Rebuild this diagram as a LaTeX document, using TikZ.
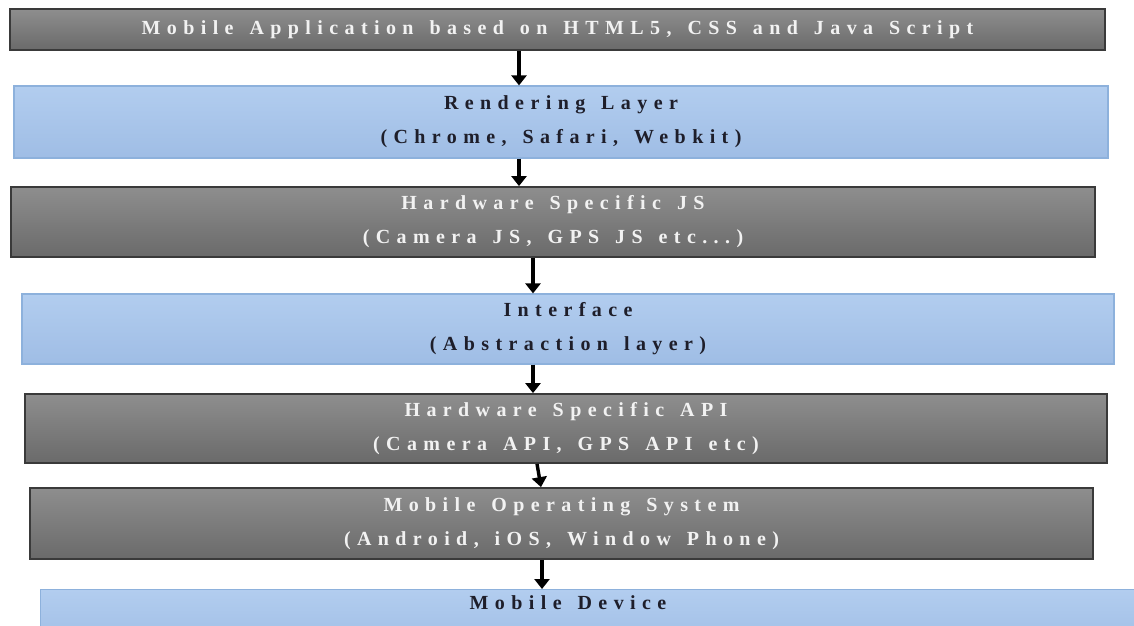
\documentclass[tikz,border=0pt]{standalone}
\usepackage{fontspec}
\setmainfont{Liberation Serif}
\newfontfamily\layerfont{Liberation Serif}[LetterSpace=32,WordSpace=1.4]
\usetikzlibrary{arrows.meta}
\definecolor{darktop}{HTML}{8E8E8E}
\definecolor{darkbot}{HTML}{6A6A6A}
\definecolor{darkline}{HTML}{3A3A3A}
\definecolor{bluetop}{HTML}{B2CDEF}
\definecolor{bluebot}{HTML}{9FBDE5}
\definecolor{blueline}{HTML}{8DB1DC}
\definecolor{inktext}{HTML}{1E1E2A}
\tikzset{
  layer/.style={rectangle, inner sep=0pt, align=center,
    font=\layerfont\bfseries\fontsize{20pt}{34pt}\selectfont},
  darklayer/.style={layer, draw=darkline, line width=1.8pt,
    top color=darktop, bottom color=darkbot, text=white!95!black},
  bluelayer/.style={layer, draw=blueline, line width=1.2pt,
    top color=bluetop, bottom color=bluebot, text=inktext},
  flow/.style={line width=3.4pt, -{Triangle[width=15pt,length=10pt]}}
}
\begin{document}
\begin{tikzpicture}[x=1pt,y=-1pt]
\useasboundingbox (0,0) rectangle (1134,625);
\clip (0,0) rectangle (1134,625);

\node[darklayer, minimum width=1095pt, minimum height=41pt] (app) at (557.5,29.5)
  {Mobile Application based on HTML5, CSS and Java Script};
\node[bluelayer, minimum width=1094pt, minimum height=72pt] (render) at (561,122)
  {Rendering Layer\\(Chrome, Safari, Webkit)};
\node[darklayer, minimum width=1084pt, minimum height=70pt] (hwjs) at (553,222)
  {Hardware Specific JS\\(Camera JS, GPS JS etc...)};
\node[bluelayer, minimum width=1092pt, minimum height=70pt] (iface) at (568,329)
  {Interface\\(Abstraction layer)};
\node[darklayer, minimum width=1082pt, minimum height=69pt] (hwapi) at (566,428.5)
  {Hardware Specific API\\(Camera API, GPS API etc)};
\node[darklayer, minimum width=1063pt, minimum height=71pt] (os) at (561.5,523.5)
  {Mobile Operating System\\(Android, iOS, Window Phone)};
\node[bluelayer, minimum width=1100pt, minimum height=60pt, anchor=north west] (device) at (40,589) {};
\node[layer, text=inktext] (devlabel) at (568,603) {Mobile Device};

\draw[flow] (519,0 |- app.south) -- (519,0 |- render.north);
\draw[flow] (519,0 |- render.south) -- (519,0 |- hwjs.north);
\draw[flow] (533,0 |- hwjs.south) -- (533,0 |- iface.north);
\draw[flow] (533,0 |- iface.south) -- (533,0 |- hwapi.north);
\draw[flow] (537,0 |- hwapi.south) -- (541,0 |- os.north);
\draw[flow] (542,0 |- os.south) -- (542,0 |- device.north);
\end{tikzpicture}
\end{document}
